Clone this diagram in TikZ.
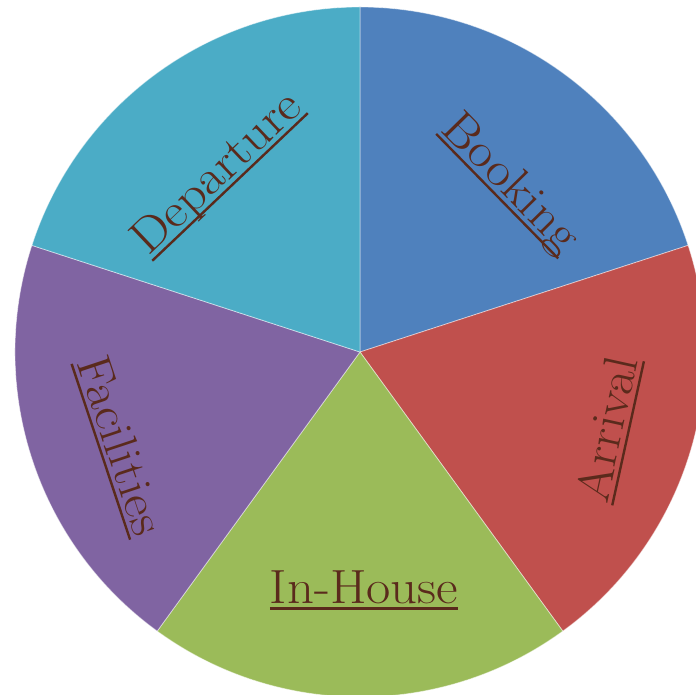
\documentclass[tikz,border=0pt]{standalone}
\usepackage{fontspec}
\definecolor{booking}{RGB}{79,129,189}
\definecolor{arrival}{RGB}{192,80,77}
\definecolor{inhouse}{RGB}{155,187,89}
\definecolor{facilities}{RGB}{128,100,162}
\definecolor{departure}{RGB}{75,172,198}
\definecolor{labeltext}{RGB}{90,42,28}
% underline at a fixed depth below the baseline
\newcommand\slicelabel[1]{\setbox0\hbox{#1}\rlap{\rule[-6.5pt]{\wd0}{2.4pt}}\box0}
\tikzset{
  x=1pt, y=1pt,
  slice/.style = {draw=white, draw opacity=0.5, line width=0.8pt},
  stage/.style = {
    inner sep=0pt,
    outer sep=0pt,
    anchor=base,
    text=labeltext,
    font=\fontsize{48}{58}\selectfont,
    rotate=#1,
    xscale=1.1     % wider letters
  },
  stage/.default = 0
}

\begin{document}
\begin{tikzpicture}

  \useasboundingbox (-360,-343) rectangle (336,352);
  \clip (-360,-343) rectangle (336,352);

  %% slices
  \filldraw[slice, fill=booking] (0,0) -- (90:345pt) arc[start angle=90, end angle=18, radius=345pt] -- cycle;
  \filldraw[slice, fill=arrival] (0,0) -- (18:345pt) arc[start angle=18, end angle=-54, radius=345pt] -- cycle;
  \filldraw[slice, fill=inhouse] (0,0) -- (-54:345pt) arc[start angle=-54, end angle=-126, radius=345pt] -- cycle;
  \filldraw[slice, fill=facilities] (0,0) -- (234:345pt) arc[start angle=234, end angle=162, radius=345pt] -- cycle;
  \filldraw[slice, fill=departure] (0,0) -- (162:345pt) arc[start angle=162, end angle=90, radius=345pt] -- cycle;

  %% labels
  \node[stage=-45.6] (BK) at (141,159.5) {\slicelabel{Booking}};
  \node[stage=77.6] (AR) at (262.9,-80.2) {\slicelabel{Arrival}};
  \node[stage] (IH) at (4,-251.3) {\slicelabel{In-House}};
  \node[stage=-71.6] (FA) at (-254.1,-98.1) {\slicelabel{Facilities}};
  \node[stage=43.5] (DP) at (-133.6,168.9) {\slicelabel{Departure}};

\end{tikzpicture}
\end{document}
